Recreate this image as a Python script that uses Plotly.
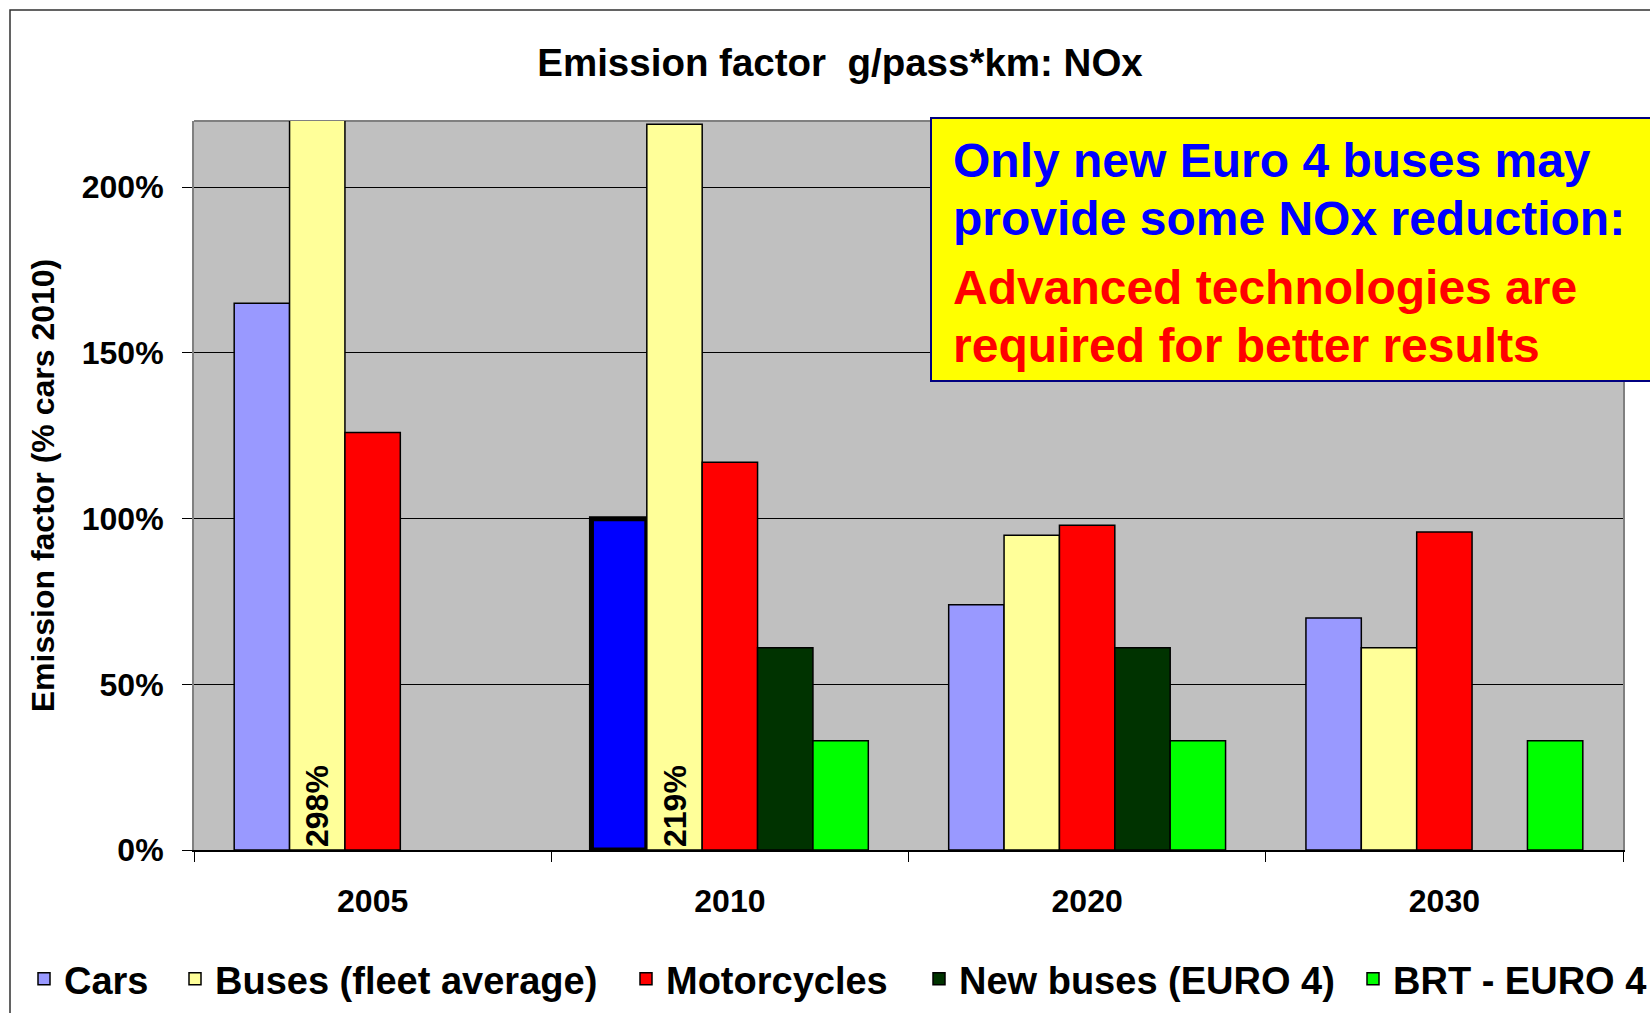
import plotly.graph_objects as go

# ---------------- data ----------------
years = ["2005", "2010", "2020", "2030"]
series_names = ["Cars", "Buses (fleet average)", "Motorcycles", "New buses (EURO 4)", "BRT - EURO 4"]
cars = [165, 100, 74, 70]
buses_fleet = [298, 219, 95, 61]
motorcycles = [126, 117, 98, 96]
new_buses = [None, 61, 61, None]
brt = [None, 33, 33, 33]
bus_labels = ["298%", "219%", "", ""]
y_ticks = [0, 50, 100, 150, 200]
y_tick_text = [f"{v}%" for v in y_ticks]

# ---------------- styling ----------------
FONT = "Liberation Sans, Arial, sans-serif"
colors = ["#9999FF", "#FFFF99", "#FF0000", "#003300", "#00FF00"]

W, H = 1650, 1013
L, R, T, B = 194, 1623, 121, 850  # plot area in pixels


def px(x):
    return (x - L) / (R - L)


def py(y):
    return (B - y) / (B - T)


# text start of each legend entry (pixels); plotly puts text 40px after legend x
legend_text_x = [64, 215, 666, 959, 1393]
legend_ids = ["legend", "legend2", "legend3", "legend4", "legend5"]

fig = go.Figure()

values = [cars, buses_fleet, motorcycles, new_buses, brt]
for i, (name, vals, col) in enumerate(zip(series_names, values, colors)):
    marker = dict(color=col, line=dict(color="black", width=1.5))
    kwargs = {}
    if i == 0:
        # highlighted reference bar (cars 2010)
        marker["color"] = [col, "#0000FF", col, col]
        marker["line"] = dict(color="black", width=[1.5, 5, 1.5, 1.5])
    if i == 1:
        kwargs = dict(
            text=bus_labels,
            textposition="inside",
            insidetextanchor="start",
            textangle=-90,
            textfont=dict(family=FONT, size=32, color="black", weight="bold"),
            constraintext="none",
        )
    fig.add_trace(go.Bar(
        x=years, y=vals, name=name, marker=marker, showlegend=True,
        legend=legend_ids[i], **kwargs
    ))

shapes = [
    # outer frame
    dict(type="rect", xref="paper", yref="paper",
         x0=px(10), x1=px(1800), y0=py(1100), y1=py(10),
         line=dict(color="#303030", width=1.5), fillcolor="rgba(0,0,0,0)", layer="below"),
    # top border of plot area
    dict(type="line", xref="paper", yref="paper", x0=0, x1=1, y0=1, y1=1,
         line=dict(color="#808080", width=2), layer="below"),
    # yellow comment box
    dict(type="rect", xref="paper", yref="paper",
         x0=px(931), x1=px(1720), y0=py(381), y1=py(118),
         line=dict(color="#000080", width=2), fillcolor="#FFFF00", layer="above"),
]

box_lines = [
    ("Only new Euro 4 buses may", "#0000FF", 160),
    ("provide some NOx reduction:", "#0000FF", 218),
    ("Advanced technologies are", "#FF0000", 287),
    ("required for better results", "#FF0000", 345),
]
annotations = [
    dict(xref="paper", yref="paper", x=px(951), y=py(yc), xanchor="left", yanchor="middle",
         text=txt, align="left", showarrow=False,
         font=dict(family=FONT, size=48, color=c, weight="bold"))
    for txt, c, yc in box_lines
]

layout_legends = {}
for lid, tx in zip(legend_ids, legend_text_x):
    layout_legends[lid] = dict(
        orientation="h", x=px(tx - 40), xanchor="left", y=py(979), yanchor="middle",
        font=dict(family=FONT, size=38, color="black", weight="bold"),
        bgcolor="rgba(0,0,0,0)",
    )

fig.update_layout(
    width=W, height=H,
    margin=dict(l=L, r=W - R, t=T, b=H - B, autoexpand=False),
    paper_bgcolor="white",
    plot_bgcolor="#C0C0C0",
    barmode="group",
    bargap=0.225,
    bargroupgap=0,
    font=dict(family=FONT, color="black"),
    title=dict(text="Emission factor\u00a0 g/pass*km: NOx",
               x=840 / W, xref="container", xanchor="center",
               y=1 - 63 / H, yref="container", yanchor="middle",
               font=dict(family=FONT, size=38.5, color="black", weight="bold")),
    shapes=shapes,
    annotations=annotations,
    **layout_legends,
)

fig.update_xaxes(
    type="category", showgrid=False,
    showline=True, linecolor="black", linewidth=1.5,
    ticks="outside", tickson="boundaries", ticklen=10, tickcolor="black", tickwidth=1,
    tickfont=dict(family=FONT, size=32, color="black", weight="bold"),
    ticklabelstandoff=22,
)
fig.update_yaxes(
    range=[0, 220], tickvals=y_ticks, ticktext=y_tick_text,
    showgrid=True, gridcolor="black", gridwidth=1,
    showline=True, linecolor="#808080", linewidth=2, mirror=True,
    ticks="outside", ticklen=10, tickcolor="black", tickwidth=1,
    tickfont=dict(family=FONT, size=32, color="black", weight="bold"),
    ticklabelstandoff=12,
    zeroline=False,
    title=dict(text="Emission factor (% cars 2010)", standoff=18,
               font=dict(family=FONT, size=32, color="black", weight="bold")),
)

fig.write_html(
    "out.html",
    config={"displayModeBar": False},
    post_script="document.body.style.margin='0';document.body.style.overflow='hidden';",
)
